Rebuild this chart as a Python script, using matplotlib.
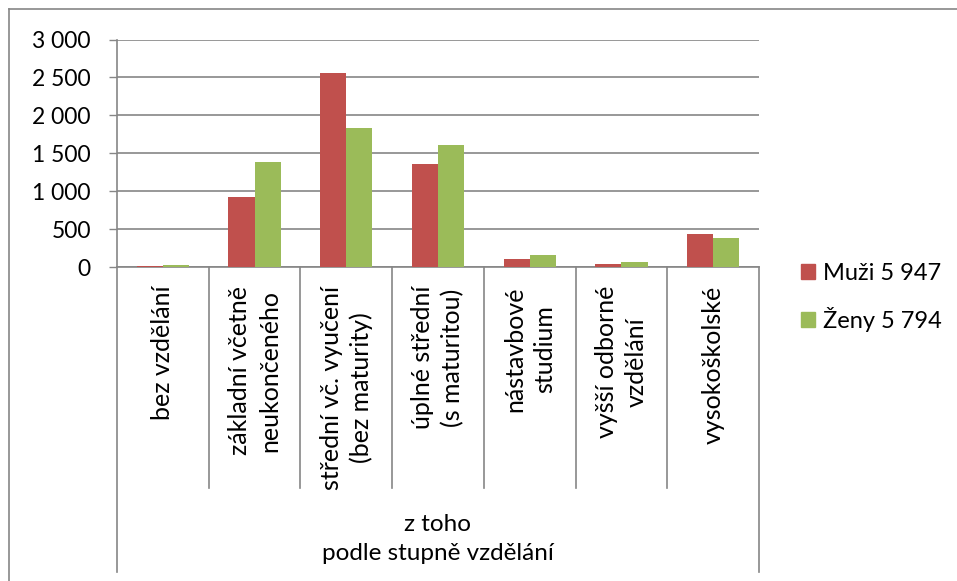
import matplotlib
matplotlib.use("Agg")
import matplotlib.pyplot as plt
import numpy as np
from matplotlib.lines import Line2D
from matplotlib.patches import Patch
from matplotlib.ticker import FuncFormatter
from matplotlib.transforms import blended_transform_factory

plt.rcParams['font.family'] = ['Lato', 'DejaVu Sans']

# data
categories = [
    "bez vzdělání",
    "základní včetně\nneukončeného",
    "střední vč. vyučení\n(bez maturity)",
    "úplné střední\n(s maturitou)",
    "nástavbové\nstudium",
    "vyšší odborné\nvzdělání",
    "vysokoškolské",
]
muzi = [12, 923, 2563, 1360, 109, 35, 433]
zeny = [25, 1387, 1837, 1610, 157, 70, 376]
series_labels = ["Muži 5 947", "Ženy 5 794"]
group_label = "z toho\npodle stupně vzdělání"

W, H = 957, 581
red = "#C0504D"
green = "#9BBB59"
gray = "#868686"

fig = plt.figure(figsize=(W / 100, H / 100), dpi=100)
left, right, top, bottom = 117, 759, 39.5, 267
ax = fig.add_axes([left / W, 1 - bottom / H, (right - left) / W, (bottom - top) / H])

x = np.arange(len(categories))
w = 0.285
ax.bar(x - w / 2, muzi, w, color=red, zorder=3)
ax.bar(x + w / 2, zeny, w, color=green, zorder=3)

ax.set_xlim(-0.5, len(categories) - 0.5)
ax.set_ylim(0, 3000)
ax.set_yticks(np.arange(0, 3001, 500))
ax.yaxis.set_major_formatter(FuncFormatter(lambda v, p: f"{v:,.0f}".replace(",", " ")))
ax.yaxis.grid(True, color=gray, linewidth=1.2, zorder=0)
ax.tick_params(axis='y', length=5.8, width=1, color=gray, pad=13, labelsize=16.5)
ax.set_xticks([])
for s in ["top", "right"]:
    ax.spines[s].set_visible(False)
for s in ["left", "bottom"]:
    ax.spines[s].set_color(gray)
    ax.spines[s].set_linewidth(1.2)

# category table below the axis
tr = blended_transform_factory(ax.transData, ax.transAxes)
ph = bottom - top
sep_end = -(488 - bottom) / ph
outer_end = -(572 - bottom) / ph
for i in range(len(categories) + 1):
    xb = i - 0.5
    yend = outer_end if i in (0, len(categories)) else sep_end
    ax.plot([xb, xb], [0, yend], color=gray, linewidth=1.2, transform=tr, clip_on=False)

label_top = -(286 - bottom) / ph
for i, c in enumerate(categories):
    ax.text(i, label_top, c, transform=tr, rotation=90, ha='center', va='top',
            multialignment='center', fontsize=18, linespacing=1.35)

ax.text((len(categories) - 1) / 2, -(539 - bottom) / ph, group_label, transform=tr,
        ha='center', va='center', multialignment='center', fontsize=17.5, linespacing=1.5)

# legend
handles = [Patch(color=red), Patch(color=green)]
fig.legend(handles, series_labels, loc='center left', bbox_to_anchor=(801 / W, 1 - 297.5 / H),
           frameon=False, fontsize=17, handlelength=0.6, handleheight=0.6,
           handletextpad=0.35, labelspacing=1.0, borderpad=0, borderaxespad=0)

# chart border (only top and left visible)
fig.add_artist(Line2D([9 / W, 1], [1 - 9 / H, 1 - 9 / H], color=gray, linewidth=1.2,
                      transform=fig.transFigure))
fig.add_artist(Line2D([9 / W, 9 / W], [0, 1 - 9 / H], color=gray, linewidth=1.2,
                      transform=fig.transFigure))

fig.savefig("out.png", dpi=100)
